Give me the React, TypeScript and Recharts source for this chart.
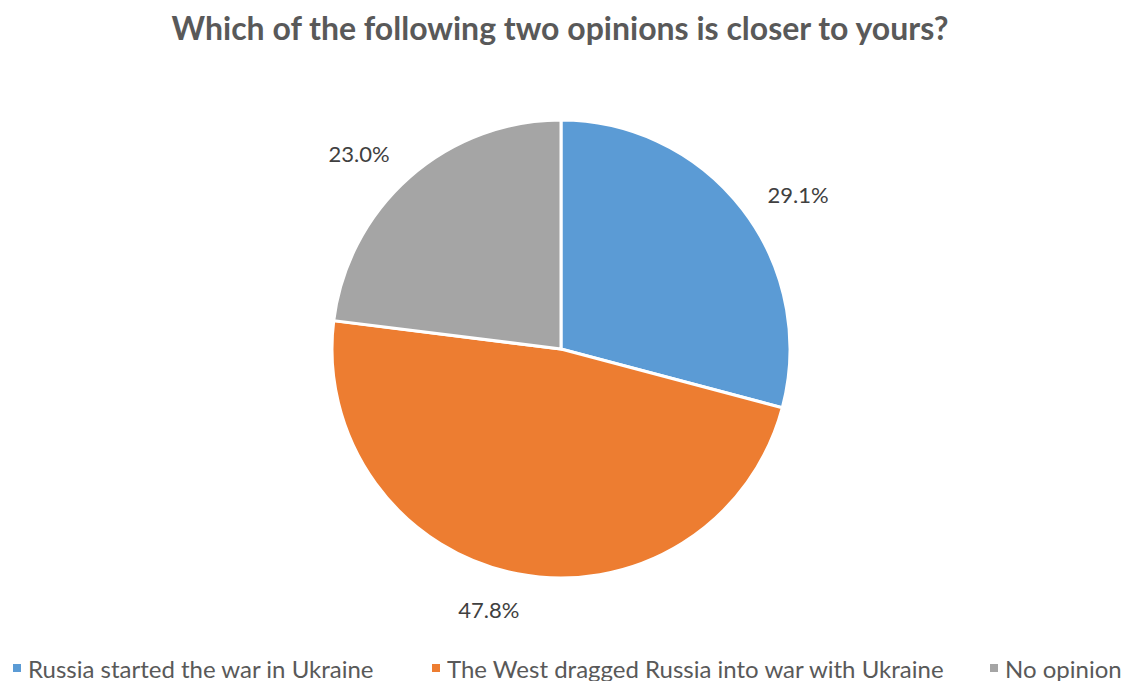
import React from 'react'
import { PieChart, Pie, Cell, Legend } from 'recharts'

const opinions = [
  'Russia started the war in Ukraine',
  'The West dragged Russia into war with Ukraine',
  'No opinion',
]
const shares = [29.1, 47.8, 23.0]
const colors = ['#5B9BD5', '#ED7D31', '#A5A5A5']

const data = opinions.map((name, i) => ({ name, value: shares[i] }))

const RADIAN = Math.PI / 180

// labels sit just outside the slice, nudged a little toward the horizontal like Excel's best fit
function renderLabel(props: any) {
  const { cx, cy, midAngle, outerRadius, value } = props
  const a = midAngle - 4.5 * Math.sign(Math.sin(2 * midAngle * RADIAN))
  const c = Math.cos(-a * RADIAN)
  const s = Math.sin(-a * RADIAN)
  const r = outerRadius + 22 + Math.abs(c) * 31 + Math.abs(s) * 11
  return (
    <text
      x={cx + r * c}
      y={cy + r * s}
      fill="#404040"
      fontSize={22}
      fontFamily="Lato, sans-serif"
      textAnchor="middle"
      dominantBaseline="central"
    >
      {value.toFixed(1)}%
    </text>
  )
}

const legendX = [13, 432, 990]

function renderLegend() {
  return (
    <div style={{ position: 'relative', height: 30 }}>
      {opinions.map((name, i) => (
        <div
          key={name}
          style={{
            position: 'absolute',
            left: legendX[i],
            top: 0,
            height: 30,
            display: 'flex',
            alignItems: 'center',
            fontFamily: 'Lato, sans-serif',
            fontSize: 24,
            color: '#595959',
            whiteSpace: 'nowrap',
          }}
        >
          <span
            style={{
              width: 8,
              height: 8,
              background: colors[i],
              display: 'inline-block',
              marginRight: 7,
            }}
          />
          {name}
        </div>
      ))}
    </div>
  )
}

export default function App() {
  return (
    <div style={{ position: 'absolute', left: 0, top: 0, width: 1127, height: 681, background: '#fff' }}>
      <PieChart width={1127} height={681}>
        <text
          x={560}
          y={27}
          textAnchor="middle"
          dominantBaseline="central"
          fill="#595959"
          fontSize={32}
          fontWeight="bold"
          fontFamily="Lato, sans-serif"
        >
          Which of the following two opinions is closer to yours?
        </text>
        <Pie
          data={data}
          dataKey="value"
          nameKey="name"
          cx={556}
          cy={344}
          outerRadius={229}
          startAngle={90}
          endAngle={-270}
          stroke="#fff"
          strokeWidth={3}
          label={renderLabel}
          labelLine={false}
          isAnimationActive={false}
        >
          {data.map((d, i) => (
            <Cell key={d.name} fill={colors[i]} />
          ))}
        </Pie>
        <Legend
          content={renderLegend}
          verticalAlign="bottom"
          wrapperStyle={{ left: 0, width: 1127, bottom: 0, top: 653 }}
        />
      </PieChart>
    </div>
  )
}
